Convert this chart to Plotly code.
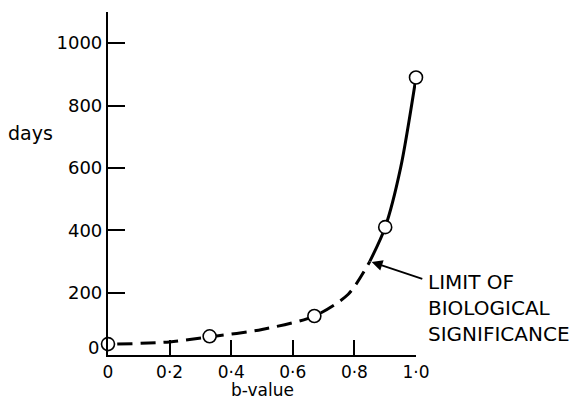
import plotly.graph_objects as go

# Observed points (b-value, days)
b_points = [0.0, 0.33, 0.67, 0.9, 1.0]
days_points = [35, 60, 125, 410, 890]

# Fitted curve: dashed (below limit) and solid (above)
curve_dash_b = [0.03, 0.2, 0.33, 0.5, 0.67, 0.78, 0.85]
curve_dash_days = [35, 42, 58, 82, 125, 195, 300]
curve_solid_b = [0.85, 0.9, 0.95, 1.0]
curve_solid_days = [300, 410, 600, 890]

limit_b = 0.85
limit_days = 300

x_tickvals = [0, 0.2, 0.4, 0.6, 0.8, 1.0]
x_ticktext = ["0", "0·2", "0·4", "0·6", "0·8", "1·0"]
y_tickvals = [200, 400, 600, 800, 1000]
y_ticktext = ["200", "400", "600", "800", "1000"]

FONT = "DejaVu Sans"

fig = go.Figure()
fig.add_trace(go.Scatter(
    x=curve_dash_b, y=curve_dash_days, mode="lines",
    line=dict(color="black", width=3, dash="15px,8px", shape="spline", smoothing=0.8),
    cliponaxis=False, showlegend=False, hoverinfo="skip"))
fig.add_trace(go.Scatter(
    x=curve_solid_b, y=curve_solid_days, mode="lines",
    line=dict(color="black", width=3, shape="spline", smoothing=0.8),
    cliponaxis=False, showlegend=False, hoverinfo="skip"))
fig.add_trace(go.Scatter(
    x=b_points, y=days_points, mode="markers",
    marker=dict(symbol="circle", size=13, color="white",
                line=dict(color="black", width=1.6)),
    cliponaxis=False, showlegend=False))

fig.add_annotation(x=limit_b, y=limit_days, ax=54, ay=18,
                   xref="x", yref="y", text="", showarrow=True,
                   arrowhead=2, arrowsize=1.2, arrowwidth=1.8, arrowcolor="black", standoff=2)

fig.update_layout(
    width=576, height=400,
    margin=dict(l=108, r=160, t=12, b=45),
    paper_bgcolor="white", plot_bgcolor="white",
    font=dict(family=FONT, color="black", size=18),
    xaxis=dict(range=[0, 1.0], tickvals=x_tickvals, ticktext=x_ticktext,
               ticks="inside", ticklen=15, tickwidth=1.8, tickcolor="black",
               showline=True, linecolor="black", linewidth=2.2,
               showgrid=False, zeroline=False, tickfont=dict(size=17)),
    yaxis=dict(range=[0, 1100], tickvals=y_tickvals, ticktext=y_ticktext,
               ticks="inside", ticklen=17, tickwidth=1.8, tickcolor="black",
               showline=True, linecolor="black", linewidth=2.2,
               showgrid=False, zeroline=False, tickfont=dict(size=18)),
)

fig.add_annotation(text="LIMIT OF<br>BIOLOGICAL<br>SIGNIFICANCE", xref="paper", yref="paper",
                   x=(426 - 108) / 308, y=(355 - 268) / 343, xanchor="left", yanchor="top",
                   align="left", showarrow=False, font=dict(size=20, family=FONT))
fig.add_annotation(text="days", xref="paper", yref="paper",
                   x=(6 - 108) / 308, y=(355 - 133) / 343, xanchor="left", yanchor="middle",
                   showarrow=False, font=dict(size=19, family=FONT))
fig.add_annotation(text="0", xref="paper", yref="paper",
                   x=(101 - 108) / 308, y=(355 - 347) / 343, xanchor="right", yanchor="middle",
                   showarrow=False, font=dict(size=18, family=FONT))
fig.add_annotation(text="b-value", xref="paper", yref="paper",
                   x=(262 - 108) / 308, y=(355 - 401) / 343, xanchor="center", yanchor="bottom",
                   borderpad=0, showarrow=False, font=dict(size=17, family=FONT))

fig.write_html("out.html")
